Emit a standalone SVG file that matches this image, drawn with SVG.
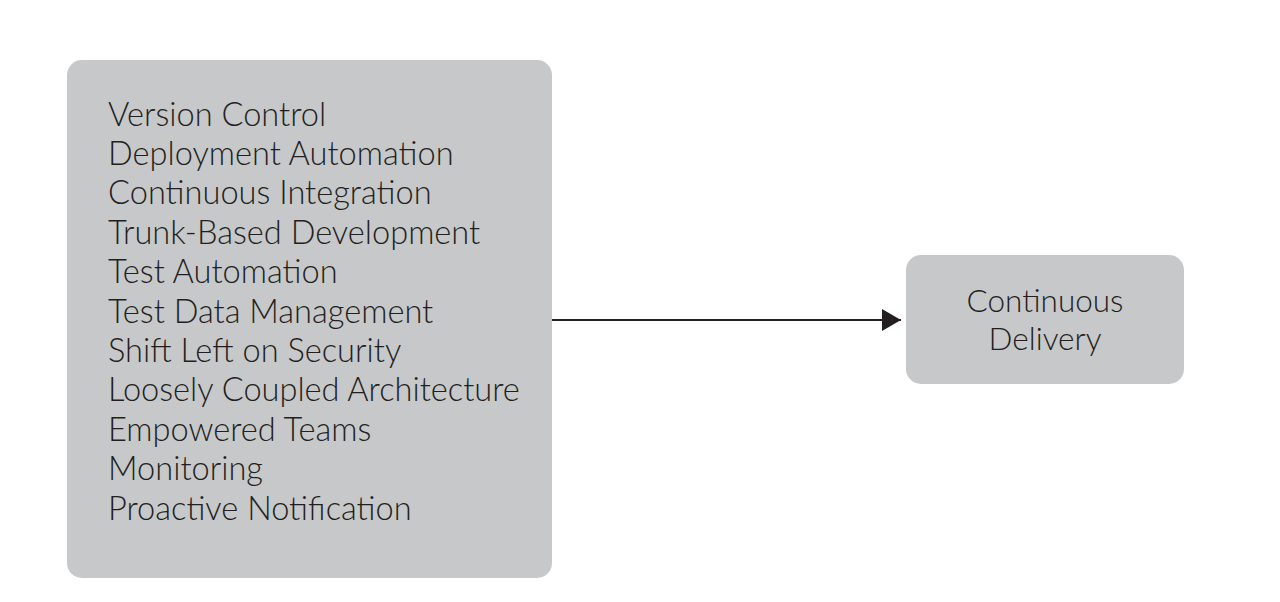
<svg xmlns="http://www.w3.org/2000/svg" width="1280" height="602" viewBox="0 0 1280 602">
<style>
.box{fill:#c7c8ca;}
.t{font-family:Lato,"Open Sans",sans-serif;font-size:32.6px;font-weight:300;fill:#231f20;}
.c{text-anchor:middle;font-size:31.5px;}
</style>
<defs>
<marker id="ah" markerWidth="19" markerHeight="22" refX="19" refY="11" orient="auto" markerUnits="userSpaceOnUse">
<path d="M0,0 L19,11 L0,22 Z" fill="#231f20"/>
</marker>
</defs>
<rect width="1280" height="602" fill="#ffffff"/>
<g id="practices">
<rect class="box" x="67" y="60" width="485" height="518" rx="15"/>
<text class="t" x="108" y="125.5">Version Control</text>
<text class="t" x="108" y="164.9">Deployment Automation</text>
<text class="t" x="108" y="204.3">Continuous Integration</text>
<text class="t" x="108" y="243.7">Trunk-Based Development</text>
<text class="t" x="108" y="283.1">Test Automation</text>
<text class="t" x="108" y="322.5">Test Data Management</text>
<text class="t" x="108" y="361.9">Shift Left on Security</text>
<text class="t" x="108" y="401.3">Loosely Coupled Architecture</text>
<text class="t" x="108" y="440.7">Empowered Teams</text>
<text class="t" x="108" y="480.1">Monitoring</text>
<text class="t" x="108" y="519.5">Proactive Notification</text>
</g>
<g id="cd">
<rect class="box" x="906" y="255" width="278" height="129" rx="15"/>
<text class="t c" x="1045" y="312">Continuous</text>
<text class="t c" x="1045" y="350">Delivery</text>
</g>
<g id="connectors">
<line x1="552" y1="320" x2="901" y2="320" stroke="#231f20" stroke-width="2" marker-end="url(#ah)"/>
</g>
</svg>
